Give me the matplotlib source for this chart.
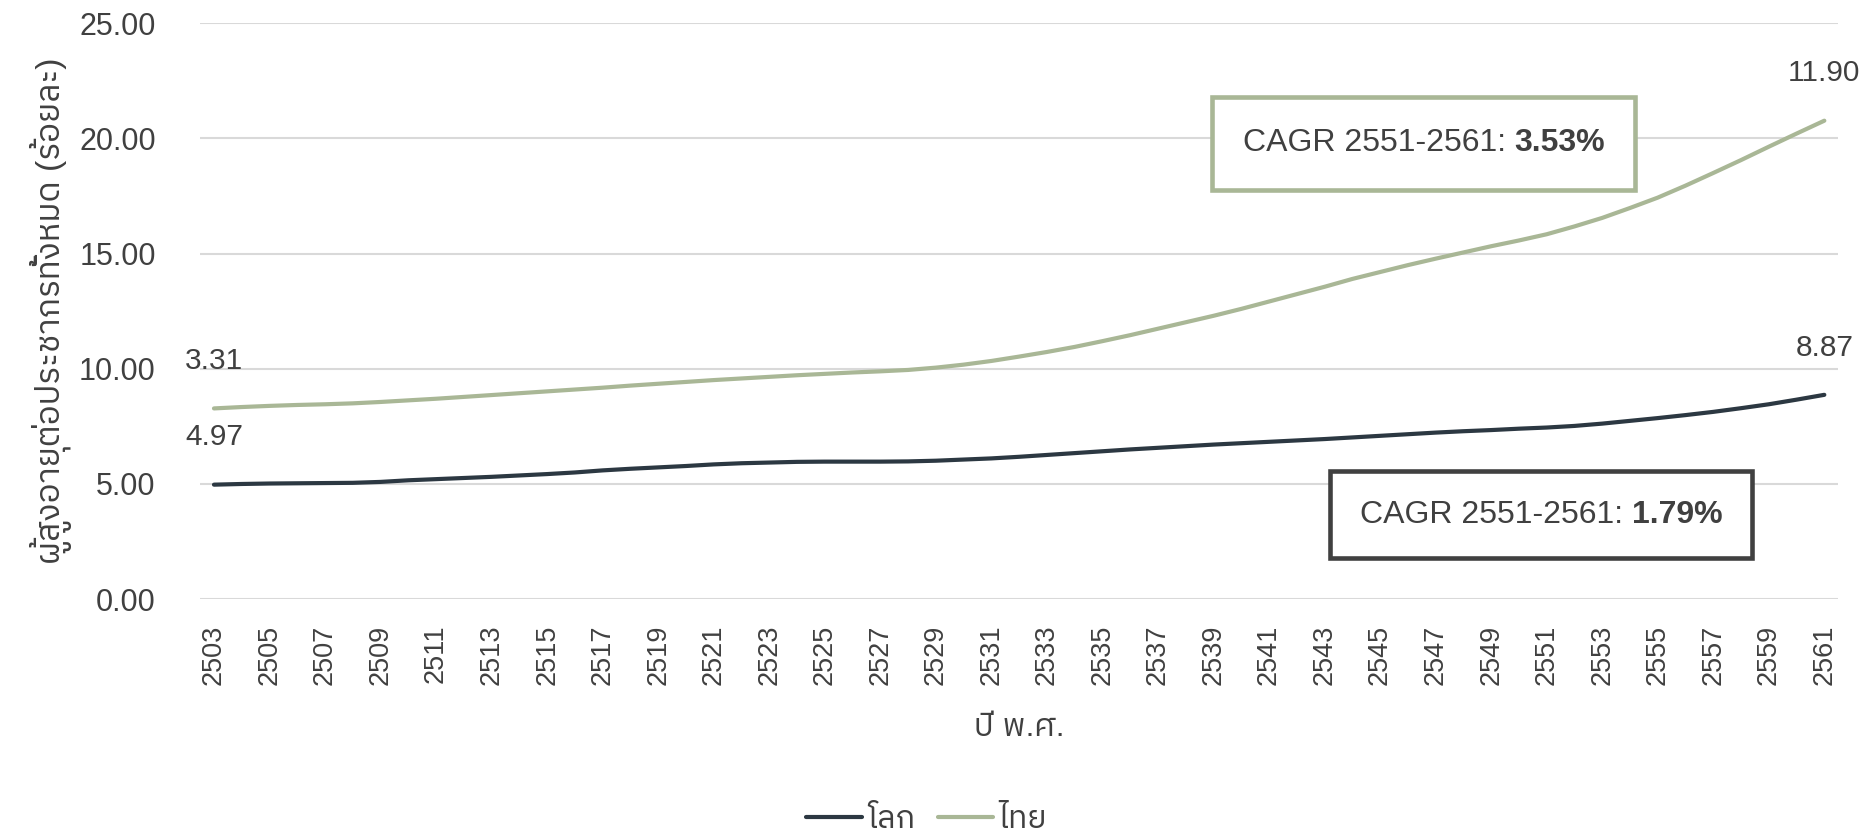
import matplotlib
matplotlib.use('Agg')
import matplotlib.pyplot as plt
from matplotlib import font_manager
from matplotlib.ft2font import FT2Font
from matplotlib.patches import Rectangle

# ปี พ.ศ. 2503 - 2561
years = list(range(2503, 2562))

# ร้อยละผู้สูงอายุ (โลก)
world = [4.97, 5.00, 5.02, 5.03, 5.04, 5.05, 5.09, 5.16, 5.21, 5.26,
         5.31, 5.37, 5.43, 5.50, 5.59, 5.66, 5.72, 5.78, 5.85, 5.90,
         5.93, 5.96, 5.97, 5.97, 5.97, 5.98, 6.01, 6.06, 6.11, 6.18,
         6.26, 6.34, 6.42, 6.50, 6.57, 6.64, 6.71, 6.77, 6.83, 6.89,
         6.95, 7.02, 7.09, 7.16, 7.23, 7.29, 7.34, 7.40, 7.45, 7.52,
         7.62, 7.74, 7.86, 7.99, 8.13, 8.29, 8.46, 8.66, 8.87]

# ร้อยละผู้สูงอายุ (ไทย) - กราฟแบบซ้อน (stacked) บนเส้นโลก
thai = [3.31, 3.34, 3.37, 3.40, 3.42, 3.45, 3.47, 3.47, 3.49, 3.52,
        3.55, 3.57, 3.59, 3.60, 3.59, 3.61, 3.63, 3.65, 3.66, 3.68,
        3.72, 3.76, 3.81, 3.87, 3.92, 3.97, 4.04, 4.12, 4.23, 4.35,
        4.47, 4.61, 4.78, 4.96, 5.17, 5.38, 5.59, 5.83, 6.09, 6.35,
        6.61, 6.88, 7.11, 7.34, 7.55, 7.76, 7.98, 8.17, 8.39, 8.66,
        8.93, 9.24, 9.57, 9.96, 10.37, 10.77, 11.18, 11.55, 11.90]

tick_years = years[::2]
cagr_thai = '3.53%'
cagr_world = '1.79%'

c_world = '#2C3842'
c_thai = '#A9B796'
c_text = '#404040'

# หาฟอนต์ที่มีอักษรไทย (เลือกแบบ sans ไม่มีหัวก่อน)
thai_fonts = []
for f in font_manager.fontManager.ttflist:
    try:
        cmap = FT2Font(f.fname).get_charmap()
    except Exception:
        continue
    if 0x0E01 in cmap and f.name not in thai_fonts:
        thai_fonts.append(f.name)
thai_fonts.sort(key=lambda n: ('Looped' in n, 'Serif' in n, 'Sans' not in n))

plt.rcParams['font.family'] = ['Liberation Sans'] + thai_fonts[:1] + ['DejaVu Sans']
plt.rcParams['text.color'] = c_text

thai_stack = [w + t for w, t in zip(world, thai)]

fig = plt.figure(figsize=(18.7, 8.36), dpi=100)
ax = fig.add_axes([0.107, 0.2833, 0.876, 0.6889])

ax.plot(years, world, color=c_world, lw=3, label='โลก', zorder=3,
        solid_capstyle='round')
ax.plot(years, thai_stack, color=c_thai, lw=3, label='ไทย', zorder=3,
        solid_capstyle='round')

ax.set_xlim(years[0] - 0.5, years[-1] + 0.5)
ax.set_ylim(0, 25)
ax.set_yticks([0, 5, 10, 15, 20, 25])
ax.set_yticklabels([f'{v:.2f}' for v in [0, 5, 10, 15, 20, 25]])
ax.set_xticks(tick_years)
ax.set_xticklabels([str(y) for y in tick_years], rotation=90)
ax.tick_params(axis='x', length=0, pad=18.5, labelsize=19.5, labelcolor=c_text)
ax.tick_params(axis='y', length=0, pad=32, labelsize=22, labelcolor=c_text)
ax.grid(axis='y', color='#D9D9D9', lw=1.5, zorder=0)
for s in ax.spines.values():
    s.set_visible(False)

ax.set_ylabel('ผู้สูงอายุต่อประชากรทั้งหมด (ร้อยละ)', fontsize=24,
              color=c_text, labelpad=5)
ax.set_xlabel('ปี พ.ศ.', fontsize=23, color=c_text, labelpad=20)

# ป้ายค่าต้นและปลายเส้น
for y, v in [(thai_stack[0], thai[0]), (world[0], world[0])]:
    ax.annotate(f'{v:.2f}', (years[0], y), xytext=(0, 34),
                textcoords='offset points', ha='center', va='center',
                fontsize=21.5)
for y, v in [(thai_stack[-1], thai[-1]), (world[-1], world[-1])]:
    ax.annotate(f'{v:.2f}', (years[-1], y), xytext=(0, 34),
                textcoords='offset points', ha='center', va='center',
                fontsize=21.5)

# กล่อง CAGR
boxes = [((0.618, 0.7105, 0.876, 0.872), c_thai, cagr_thai),
         ((0.6895, 0.0708, 0.9475, 0.222), '#404040', cagr_world)]
pairs = []
for (x0, y0, x1, y1), edge, val in boxes:
    ax.add_patch(Rectangle((x0, y0), x1 - x0, y1 - y0, transform=ax.transAxes,
                           facecolor='white', edgecolor=edge, lw=3.3,
                           zorder=5))
    cx, cy = (x0 + x1) / 2, (y0 + y1) / 2
    t1 = ax.text(cx, cy, 'CAGR 2551-2561: ', transform=ax.transAxes,
                 ha='right', va='center', fontsize=23, zorder=6)
    t2 = ax.text(cx, cy, val, transform=ax.transAxes, ha='left',
                 va='center', fontsize=23, fontweight='bold', zorder=6)
    pairs.append((cx, t1, t2))

leg = ax.legend(loc='center', bbox_to_anchor=(0.4955, 0.019),
                bbox_transform=fig.transFigure, ncol=2, frameon=False,
                fontsize=23, handlelength=1.75, handletextpad=0.15,
                columnspacing=0.7)
for t in leg.get_texts():
    t.set_color(c_text)

# จัดข้อความในกล่องให้อยู่กึ่งกลาง
fig.canvas.draw()
r = fig.canvas.get_renderer()
ax_w = ax.get_window_extent(r).width
for cx, t1, t2 in pairs:
    w1 = t1.get_window_extent(r).width
    w2 = t2.get_window_extent(r).width
    shift = (w1 - w2) / 2 / ax_w
    t1.set_x(cx + shift)
    t2.set_x(cx + shift)

fig.savefig('out.png', dpi=100)
